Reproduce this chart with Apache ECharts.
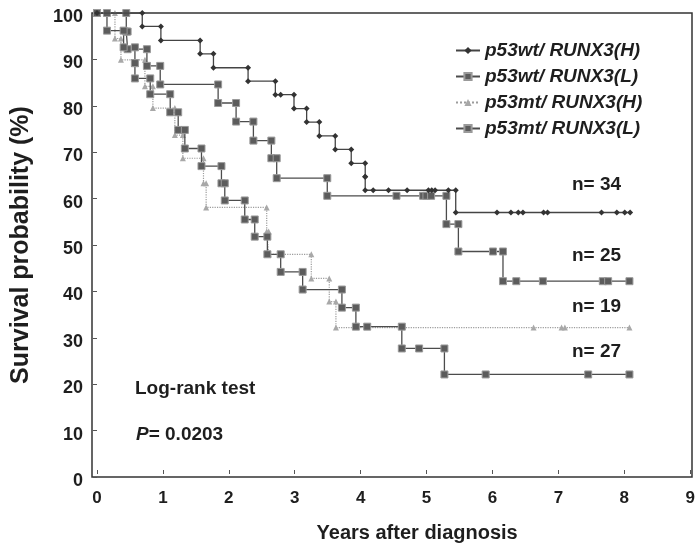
<!DOCTYPE html>
<html>
<head>
<meta charset="utf-8">
<script src="https://cdn.jsdelivr.net/npm/echarts@6/dist/echarts.min.js"></script>
<style>html,body{margin:0;padding:0;background:#fff;}#c{width:698px;height:548px;}</style>
</head>
<body>
<div id="c"></div>
<script>
// ---- data ----
var seriesNames = ['p53wt/ RUNX3(H)', 'p53wt/ RUNX3(L)', 'p53mt/ RUNX3(H)', 'p53mt/ RUNX3(L)'];

// p53wt/RUNX3(H): event times, survival after event, censor times
var aTimes  = [0.68, 0.96, 1.55, 1.75, 2.27, 2.68, 2.96, 3.15, 3.34, 3.58, 3.82, 4.03, 4.03, 5.39];
var aSurv   = [97.1, 94.1, 91.2, 88.2, 85.3, 82.4, 79.4, 76.5, 73.5, 70.6, 67.6, 64.7, 61.8, 57.0];
var aCensor = [2.76, 4.15, 4.38, 4.66, 4.98, 5.03, 5.08, 5.28, 6.01, 6.22, 6.33, 6.40, 6.71, 6.77, 7.58, 7.81, 7.93, 8.01];

// p53wt/RUNX3(L)
var bTimes  = [0.44, 0.46, 0.75, 0.95, 1.82, 2.09, 2.35, 2.62, 2.70, 3.46, 5.25, 5.43, 6.10];
var bSurv   = [96.0, 92.2, 88.6, 84.6, 80.6, 76.6, 72.5, 68.7, 64.4, 60.6, 54.5, 48.6, 42.2];
var bCensor = [4.50, 4.90, 4.95, 5.02, 5.95, 6.30, 6.70, 7.60, 7.68, 8.00];

// p53mt/RUNX3(H)
var cTimes  = [0.27, 0.36, 0.72, 0.84, 1.17, 1.29, 1.60, 1.64, 2.55, 2.58, 3.22, 3.49, 3.59];
var cSurv   = [94.5, 89.9, 84.2, 79.5, 73.7, 68.7, 63.3, 58.1, 52.9, 48.0, 42.8, 37.8, 32.2];
var cCensor = [6.56, 6.98, 7.03, 8.00];

// p53mt/RUNX3(L)
var dTimes  = [0.15, 0.40, 0.57, 0.57, 0.80, 1.10, 1.22, 1.32, 1.57, 1.87, 1.92, 2.22, 2.37, 2.56, 2.76, 3.09, 3.68, 3.89, 4.58, 5.22];
var dSurv   = [96.2, 92.6, 89.2, 85.9, 82.5, 78.6, 74.8, 70.8, 67.0, 63.3, 59.6, 55.5, 51.8, 48.0, 44.2, 40.4, 36.5, 32.4, 27.7, 22.1];
var dCensor = [4.06, 4.84, 5.84, 7.38, 8.00];

var xTickValues = [0, 1, 2, 3, 4, 5, 6, 7, 8, 9];
var nLabels = ['n= 34', 'n= 25', 'n= 19', 'n= 27'];
var testLabel = 'Log-rank test';
var pLabel = '0.0203';

function buildKM(times, surv, censor) {
  var evs = times.map(function (t, i) { return { t: t, s: surv[i], e: true }; })
    .concat(censor.map(function (t) { return { t: t, e: false }; }));
  evs.sort(function (a, b) { return a.t - b.t; });
  var cur = 100, pts = [[0, 100]];
  evs.forEach(function (ev) {
    if (ev.e) { pts.push([ev.t, cur]); pts.push([ev.t, ev.s]); cur = ev.s; }
    else pts.push([ev.t, cur]);
  });
  return pts;
}

var FONT = '"Liberation Sans", Arial, Helvetica, sans-serif';
var TXT = '#1e1e1e';

var chart = echarts.init(document.getElementById('c'), null, { renderer: 'canvas' });

var sqStyle = { color: '#5c5c5c', borderColor: '#9a9a9a', borderWidth: 1 };

chart.setOption({
  backgroundColor: '#fff',
  animation: false,
  grid: [
    { left: 92, right: 6, top: 13, bottom: 71, show: true, borderColor: '#333', borderWidth: 1.5, containLabel: false },
    { left: 92, right: 2, top: 13, bottom: 71, show: false, containLabel: false },
    { left: 92, right: 6, top: 17, bottom: 67, show: false, containLabel: false }
  ],
  xAxis: [
    { type: 'value', gridIndex: 0, min: -0.075, max: 8.94,
      axisLine: { show: false }, axisTick: { show: false }, axisLabel: { show: false }, splitLine: { show: false } },
    { type: 'value', gridIndex: 1, min: -0.075, max: 9,
      axisLine: { show: false },
      axisTick: { show: true, inside: false, length: 4, customValues: xTickValues, lineStyle: { color: '#555', width: 1 } },
      axisLabel: { show: true, customValues: xTickValues, margin: 20, color: TXT, fontFamily: FONT, fontWeight: 'bold', fontSize: 17 },
      splitLine: { show: false },
      name: 'Years after diagnosis', nameLocation: 'middle', nameGap: 53,
      nameTextStyle: { color: TXT, fontFamily: FONT, fontWeight: 'bold', fontSize: 20, padding: [0, 0, 0, 52] } },
    { type: 'value', gridIndex: 2, min: 0, max: 9, show: false }
  ],
  yAxis: [
    { type: 'value', gridIndex: 0, min: 0, max: 100, interval: 10,
      axisLine: { show: false },
      axisTick: { show: true, inside: false, length: 4, lineStyle: { color: '#555' } },
      axisLabel: { show: false },
      splitLine: { show: false },
      name: 'Survival probability (%)', nameLocation: 'middle', nameGap: 58,
      nameTextStyle: { color: TXT, fontFamily: FONT, fontWeight: 'bold', fontSize: 25 } },
    { type: 'value', gridIndex: 1, min: 0, max: 100, show: false },
    { type: 'value', gridIndex: 2, min: 0, max: 100, interval: 10,
      axisLine: { show: false }, axisTick: { show: false }, splitLine: { show: false },
      axisLabel: { margin: 9, color: TXT, fontFamily: FONT, fontWeight: 'bold', fontSize: 18 } }
  ],
  legend: {
    orient: 'vertical', left: 450, top: 36, itemWidth: 24, itemHeight: 9, itemGap: 7,
    data: seriesNames,
    textStyle: { color: TXT, fontFamily: FONT, fontWeight: 'bold', fontStyle: 'italic', fontSize: 19 }
  },
  graphic: [
    { type: 'text', left: 572, top: 175, style: { text: nLabels[0], fill: TXT, font: 'bold 19px ' + FONT } },
    { type: 'text', left: 572, top: 246, style: { text: nLabels[1], fill: TXT, font: 'bold 19px ' + FONT } },
    { type: 'text', left: 572, top: 297, style: { text: nLabels[2], fill: TXT, font: 'bold 19px ' + FONT } },
    { type: 'text', left: 572, top: 342, style: { text: nLabels[3], fill: TXT, font: 'bold 19px ' + FONT } },
    { type: 'text', left: 135, top: 379, style: { text: testLabel, fill: TXT, font: 'bold 19px ' + FONT } },
    { type: 'text', left: 136, top: 425, style: { text: '{i|P}{n|= ' + pLabel + '}', rich: {
        i: { fill: TXT, font: 'italic bold 19px ' + FONT },
        n: { fill: TXT, font: 'bold 19px ' + FONT } } } }
  ],
  series: [
    { name: seriesNames[0], type: 'line', xAxisIndex: 0, yAxisIndex: 0, data: buildKM(aTimes, aSurv, aCensor),
      symbol: 'diamond', symbolSize: 6, showAllSymbol: true, z: 4,
      itemStyle: { color: '#333' }, lineStyle: { color: '#444', width: 1.3 } },
    { name: seriesNames[1], type: 'line', xAxisIndex: 0, yAxisIndex: 0, data: buildKM(bTimes, bSurv, bCensor),
      symbol: 'rect', symbolSize: 7, showAllSymbol: true, z: 3,
      itemStyle: sqStyle, lineStyle: { color: '#4c4c4c', width: 1.3 } },
    { name: seriesNames[2], type: 'line', xAxisIndex: 0, yAxisIndex: 0, data: buildKM(cTimes, cSurv, cCensor),
      symbol: 'triangle', symbolSize: 6, showAllSymbol: true, z: 2,
      itemStyle: { color: '#a8a8a8' }, lineStyle: { color: '#9c9c9c', width: 1.2, type: 'dotted' } },
    { name: seriesNames[3], type: 'line', xAxisIndex: 0, yAxisIndex: 0, data: buildKM(dTimes, dSurv, dCensor),
      symbol: 'rect', symbolSize: 7, showAllSymbol: true, z: 3,
      itemStyle: sqStyle, lineStyle: { color: '#4c4c4c', width: 1.3 } }
  ]
});
</script>
</body>
</html>
